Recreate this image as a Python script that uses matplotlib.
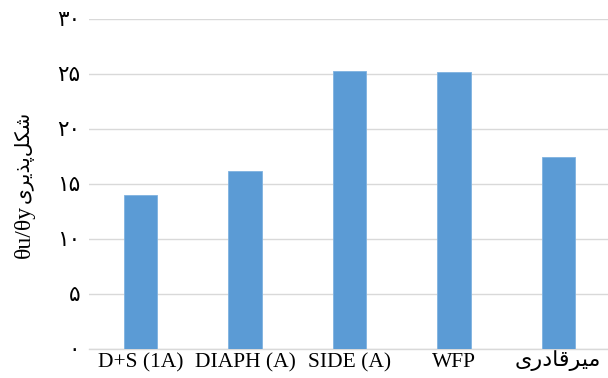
import matplotlib
matplotlib.use("Agg")
import matplotlib.pyplot as plt
from matplotlib.transforms import ScaledTranslation

# Persian text given in visual (left-to-right) order using Arabic presentation forms,
# since matplotlib does not shape/bidi Arabic script.
categories = ["D+S (1A)", "DIAPH (A)", "SIDE (A)", "WFP",
              "\uFBFC\uFEAD\uFEA9\uFE8E\uFED7\uFEAE\uFBFF\uFEE3"]  # میرقادری
values = [14.0, 16.2, 25.3, 25.15, 17.5]
yticks = [0, 5, 10, 15, 20, 25, 30]
ytick_labels = ["۰", "۵", "۱۰", "۱۵", "۲۰", "۲۵", "۳۰"]
ylabel_latin = "θu/θy"
ylabel_persian = "\uFBFC\uFEAE\uFBFE\uFEAC\uFB58\uFEDE\uFB91\uFEB7"  # شکل‌پذیری

fam = ["Liberation Serif", "DejaVu Sans"]
plt.rcParams['font.family'] = fam

fig = plt.figure(figsize=(6.08, 3.78), dpi=100)
ax = fig.add_axes([88.5/608, 29/378, 522/608, 330/378])

x = list(range(len(categories)))
ax.bar(x, values, width=0.32, color="#5b9bd5", edgecolor="#7fb2e0", linewidth=0.6, zorder=3)

ax.set_xlim(-0.5, 4.5)
ax.set_ylim(0, 30)
ax.set_yticks(yticks)
ax.set_yticklabels(ytick_labels, fontsize=15.5, family=fam)
ax.set_xticks(x)
ax.set_xticklabels(categories, fontsize=15.5, family=fam)
ax.tick_params(axis='both', length=0)
ax.tick_params(axis='y', pad=6)
ax.tick_params(axis='x', pad=3)
last = ax.get_xticklabels()[-1]
last.set_fontsize(16)
last.set_transform(last.get_transform() + ScaledTranslation(0, 4/100, fig.dpi_scale_trans))
ax.grid(axis='y', color="#d9d9d9", linewidth=1.0, zorder=0)
for s in ["top", "right", "left"]:
    ax.spines[s].set_visible(False)
ax.spines["bottom"].set_color("#d9d9d9")
ax.spines["bottom"].set_linewidth(1.0)

fig.text(29.5/608, 1 - 258/378, ylabel_latin, rotation=90, rotation_mode="anchor",
         ha="left", va="baseline", fontsize=17, family=fam)
fig.text(28.5/608, 1 - 203/378, ylabel_persian, rotation=90, rotation_mode="anchor",
         ha="left", va="baseline", fontsize=14.5, family=fam)

fig.savefig("out.png", dpi=100)
